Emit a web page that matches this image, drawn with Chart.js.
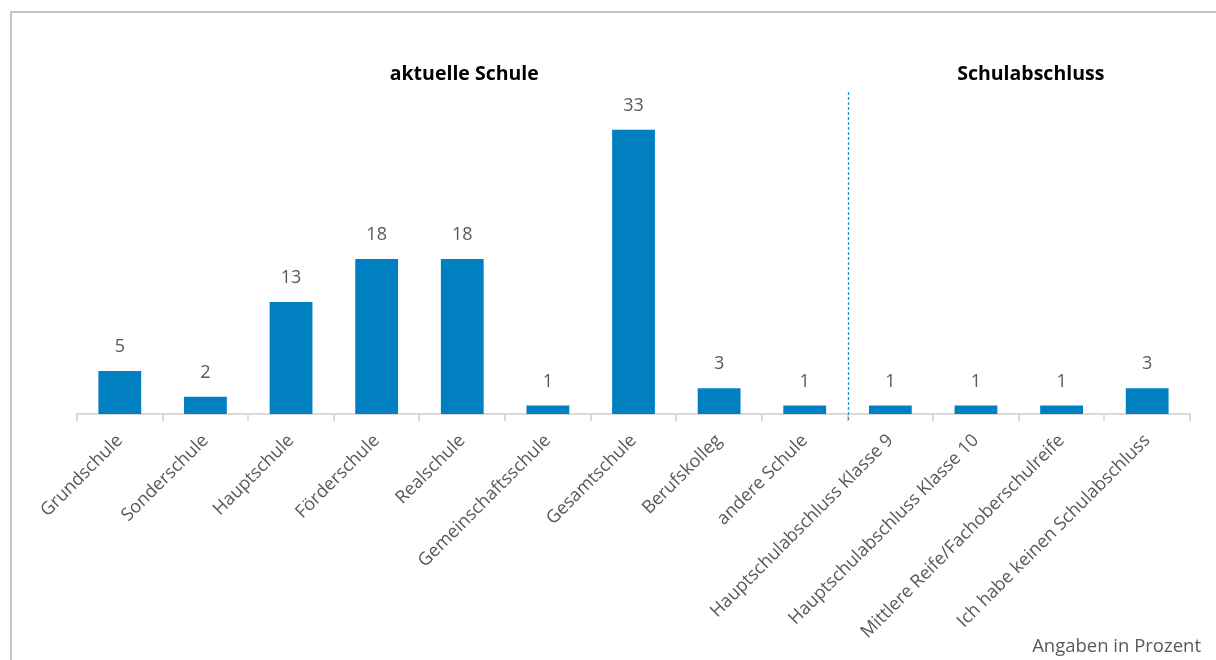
<!DOCTYPE html>
<html>
<head>
<meta charset="utf-8">
<script src="https://cdn.jsdelivr.net/npm/chart.js@4"></script>
<style>
  html, body { margin: 0; padding: 0; background: #fff; }
  #wrap { position: relative; width: 1216px; height: 660px; overflow: hidden; }
  #frame { position: absolute; left: 10px; top: 11px; width: 1300px; height: 700px;
           border-left: 2px solid #c4c4c4; border-top: 2px solid #c4c4c4; }
  canvas { position: absolute; left: 0; top: 0; }
</style>
</head>
<body>
<div id="wrap">
  <div id="frame"></div>
  <canvas id="schulChart" width="1216" height="660"></canvas>
</div>
<script>
const categories = [
    'Grundschule', 'Sonderschule', 'Hauptschule', 'Förderschule', 'Realschule',
    'Gemeinschaftsschule', 'Gesamtschule', 'Berufskolleg', 'andere Schule',
    'Hauptschulabschluss Klasse 9', 'Hauptschulabschluss Klasse 10',
    'Mittlere Reife/Fachoberschulreife', 'Ich habe keinen Schulabschluss'
];
const percent = [5, 2, 13, 18, 18, 1, 33, 3, 1, 1, 1, 1, 3];
const groupTitles = ['aktuelle Schule', 'Schulabschluss'];
const note = 'Angaben in Prozent';

const FONT = "'Open Sans', 'Liberation Sans', sans-serif";
const GREY = '#595959';

// value labels, group titles, divider and footnote
const extras = {
    id: 'extras',
    afterDatasetsDraw(chart) {
        const ctx = chart.ctx;
        const x = chart.scales.x;
        const meta = chart.getDatasetMeta(0);
        ctx.save();
        ctx.fillStyle = GREY;
        ctx.font = '18px ' + FONT;
        ctx.textAlign = 'center';
        ctx.textBaseline = 'middle';
        meta.data.forEach((bar, i) => {
            ctx.fillText(String(percent[i]), bar.x, bar.y - 24);
        });

        // dashed separator between the two groups
        const sepX = Math.round((x.getPixelForValue(8) + x.getPixelForValue(9)) / 2) + 0.5;
        ctx.strokeStyle = '#2b8fd0';
        ctx.lineWidth = 1.3;
        ctx.setLineDash([3, 2]);
        ctx.beginPath();
        ctx.moveTo(sepX, 92);
        ctx.lineTo(sepX, chart.chartArea.bottom + 7);
        ctx.stroke();
        ctx.setLineDash([]);

        ctx.fillStyle = '#000';
        ctx.font = 'bold 19.5px ' + FONT;
        ctx.fillText(groupTitles[0], (x.getPixelForValue(0) + x.getPixelForValue(8)) / 2 + 2, 74);
        ctx.fillText(groupTitles[1], (x.getPixelForValue(9) + x.getPixelForValue(12)) / 2 + 12, 74);

        ctx.fillStyle = GREY;
        ctx.font = '18.5px ' + FONT;
        ctx.textAlign = 'right';
        ctx.fillText(note, 1201, 647);
        ctx.restore();
    }
};

new Chart(document.getElementById('schulChart'), {
    type: 'bar',
    data: {
        labels: categories,
        datasets: [{
            data: percent,
            backgroundColor: '#0080c0',
            borderWidth: 0,
            categoryPercentage: 1,
            barPercentage: 0.5
        }]
    },
    options: {
        responsive: false,
        animation: false,
        layout: { padding: { left: 77, right: 26, top: 104, bottom: 0 } },
        plugins: { legend: { display: false }, tooltip: { enabled: false } },
        scales: {
            y: { display: false, min: 0, max: 36 },
            x: {
                afterFit(scale) { scale.height = 246; },
                border: { color: '#d9d9d9', width: 2 },
                grid: { offset: true, drawOnChartArea: false, drawTicks: true, tickLength: 7, color: '#d9d9d9', lineWidth: 2 },
                ticks: {
                    autoSkip: false,
                    minRotation: 45,
                    maxRotation: 45,
                    padding: 9,
                    color: GREY,
                    font: { family: FONT, size: 18 }
                }
            }
        }
    },
    plugins: [extras]
});
</script>
</body>
</html>
